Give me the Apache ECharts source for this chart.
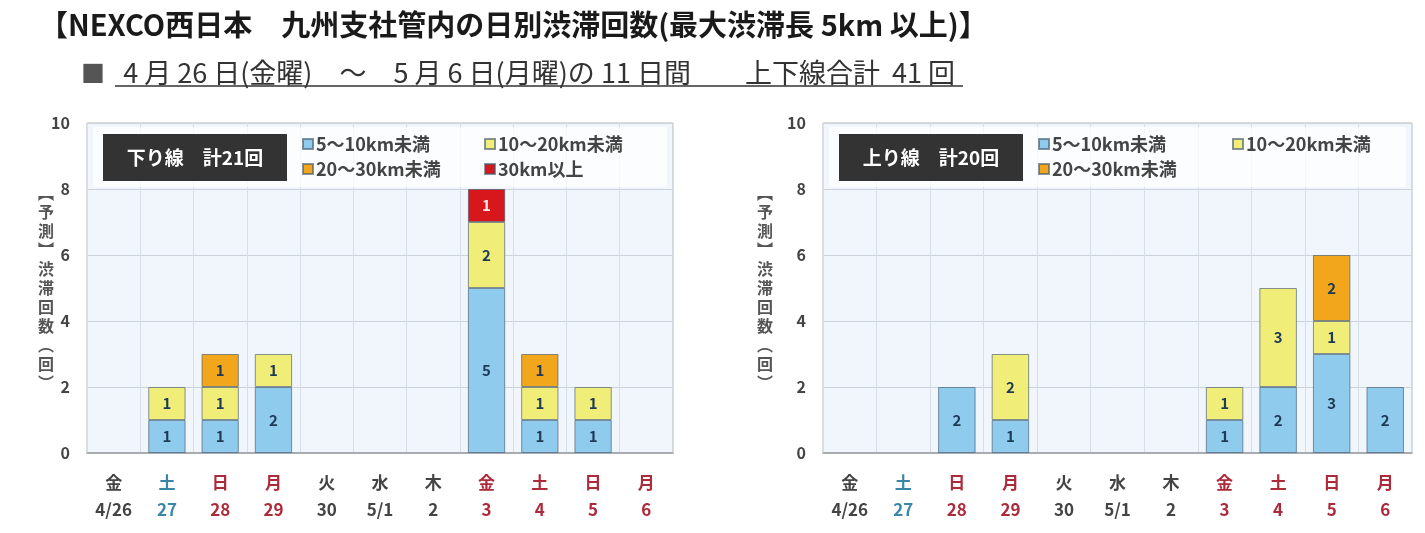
<!DOCTYPE html>
<html>
<head>
<meta charset="utf-8">
<title>日別渋滞回数</title>
<script src="https://cdn.jsdelivr.net/npm/echarts@6/dist/echarts.min.js"></script>
<style>
  html, body { margin: 0; padding: 0; background: #fff; }
  #main { width: 1425px; height: 533px; }
</style>
</head>
<body>
<div id="main"></div>
<script>
// ===== データ =====
const weekdays = ["金", "土", "日", "月", "火", "水", "木", "金", "土", "日", "月"];
const dates = ["4/26", "27", "28", "29", "30", "5/1", "2", "3", "4", "5", "6"];
// w: 平日, s: 土曜, h: 日曜・祝日
const dayTypes = ["w", "s", "h", "h", "w", "w", "w", "h", "h", "h", "h"];

const seriesNames = ["5～10km未満", "10～20km未満", "20～30km未満", "30km以上"];

// 下り線
const downShort = [0, 1, 1, 2, 0, 0, 0, 5, 1, 1, 0];
const downMid = [0, 1, 1, 1, 0, 0, 0, 2, 1, 1, 0];
const downLong = [0, 0, 1, 0, 0, 0, 0, 0, 1, 0, 0];
const downOver = [0, 0, 0, 0, 0, 0, 0, 1, 0, 0, 0];

// 上り線
const upShort = [0, 0, 2, 1, 0, 0, 0, 1, 2, 3, 2];
const upMid = [0, 0, 0, 2, 0, 0, 0, 1, 3, 1, 0];
const upLong = [0, 0, 0, 0, 0, 0, 0, 0, 0, 2, 0];

const yTicks = [0, 2, 4, 6, 8, 10];

(function () {
    const chart = echarts.init(document.getElementById("main"));

    const colors = ["#8fcbec", "#f0ee78", "#f1a61c", "#d8171d"];
    const font = "'Noto Sans CJK JP', 'Noto Sans', sans-serif";
    const yName = "︻予測︼渋滞回数︵回︶".split("").join("\n");

    function grid(left, width) {
        return {
            left, top: 123, width, height: 330,
            show: true,
            backgroundColor: "#f0f6fb",
            borderColor: "#b4b8bc",
            borderWidth: 1
        };
    }

    function xAxis(gridIndex) {
        const st = { fontSize: 17, fontWeight: "bold", lineHeight: 27, fontFamily: font };
        return {
            type: "category",
            gridIndex,
            data: dates,
            axisTick: { show: false },
            axisLine: { lineStyle: { color: "#9a9ea2", width: 1.5 } },
            splitLine: { show: true, interval: 0, lineStyle: { color: "#d6dee6" } },
            axisLabel: {
                interval: 0,
                margin: 16,
                formatter: (v, i) => `{${dayTypes[i]}|${weekdays[i]}}\n{${dayTypes[i]}|${v}}`,
                rich: {
                    w: Object.assign({ color: "#444" }, st),
                    s: Object.assign({ color: "#3a86a8" }, st),
                    h: Object.assign({ color: "#ad2a3a" }, st)
                }
            }
        };
    }

    function yAxis(gridIndex, nameGap) {
        return {
            type: "value",
            gridIndex,
            min: yTicks[0],
            max: yTicks[yTicks.length - 1],
            interval: 2,
            name: yName,
            nameLocation: "middle",
            nameRotate: 0,
            nameGap,
            nameMoveOverlap: false,
            nameTextStyle: { color: "#555", fontSize: 16, fontWeight: "bold", lineHeight: 19, fontFamily: font },
            axisLine: { show: false },
            axisTick: { show: false },
            splitLine: { lineStyle: { color: "#cbd4dc" } },
            axisLabel: { margin: 17, color: "#444", fontSize: 16, fontWeight: "bold", fontFamily: font }
        };
    }

    function bars(name, values, idx, color, labelColor) {
        return {
            name,
            type: "bar",
            stack: "s" + idx,
            xAxisIndex: idx,
            yAxisIndex: idx,
            barWidth: "70%",
            data: values.map(v => v || "-"),
            itemStyle: { color, borderColor: "rgba(70,90,110,0.65)", borderWidth: 1 },
            label: {
                show: true,
                position: "inside",
                color: labelColor || "#1e3a56",
                fontSize: 15,
                fontWeight: "bold",
                fontFamily: font,
                formatter: p => (p.value ? p.value : "")
            }
        };
    }

    function legend(name, left, top) {
        return {
            data: [name],
            left, top,
            icon: "rect",
            itemWidth: 10,
            itemHeight: 10,
            itemGap: 0,
            padding: 0,
            z: 6,
            textStyle: { color: "#444", fontSize: 18, fontWeight: "bold", fontFamily: font, padding: [0, 0, 0, -2] }
        };
    }

    function labelBox(x, text) {
        return [
            { type: "rect", z: 7, shape: { x, y: 134, width: 184, height: 47 }, style: { fill: "#333" } },
            {
                type: "text", z: 8,
                style: {
                    x: x + 92, y: 157.5, text, fill: "#fff",
                    font: "bold 19px " + font, align: "center", verticalAlign: "middle"
                }
            }
        ];
    }

    chart.setOption({
        animation: false,
        color: colors,
        title: [{
            text: "【NEXCO西日本　九州支社管内の日別渋滞回数(最大渋滞長 5km 以上)】",
            left: 34, top: 5,
            textStyle: { color: "#1a1a1a", fontSize: 29, fontWeight: "bold", fontFamily: font }
        }, {
            text: "{sq|■}   4 月 26 日(金曜)　～　5 月 6 日(月曜)の 11 日間　　上下線合計  41 回",
            left: 76, top: 54,
            textStyle: {
                color: "#333", fontSize: 27, fontWeight: "normal", fontFamily: font,
                rich: { sq: { color: "#555", fontSize: 24, fontFamily: font } }
            }
        }],
        grid: [grid(87, 586), grid(823, 589)],
        xAxis: [xAxis(0), xAxis(1)],
        yAxis: [yAxis(0, 33), yAxis(1, 50)],
        legend: [
            legend(seriesNames[0], 302, 135),
            legend(seriesNames[1], 484, 135),
            legend(seriesNames[2], 302, 160),
            legend(seriesNames[3], 484, 160),
            legend(seriesNames[0], 1038, 135),
            legend(seriesNames[1], 1232, 135),
            legend(seriesNames[2], 1038, 160)
        ],
        graphic: [
            { type: "rect", z: 1, shape: { x: 93, y: 127, width: 574, height: 60 }, style: { fill: "rgba(255,255,255,0.75)" } },
            { type: "rect", z: 1, shape: { x: 829, y: 127, width: 577, height: 60 }, style: { fill: "rgba(255,255,255,0.75)" } },
            ...labelBox(103, "下り線　計21回"),
            ...labelBox(839, "上り線　計20回"),
            { type: "line", z: 2, shape: { x1: 115, y1: 86, x2: 963, y2: 86 }, style: { stroke: "#333", lineWidth: 1.5 } }
        ],
        series: [
            bars(seriesNames[0], downShort, 0, colors[0]),
            bars(seriesNames[1], downMid, 0, colors[1]),
            bars(seriesNames[2], downLong, 0, colors[2]),
            bars(seriesNames[3], downOver, 0, colors[3], "#fde8e8"),
            bars(seriesNames[0], upShort, 1, colors[0]),
            bars(seriesNames[1], upMid, 1, colors[1]),
            bars(seriesNames[2], upLong, 1, colors[2])
        ]
    });
})();
</script>
</body>
</html>
